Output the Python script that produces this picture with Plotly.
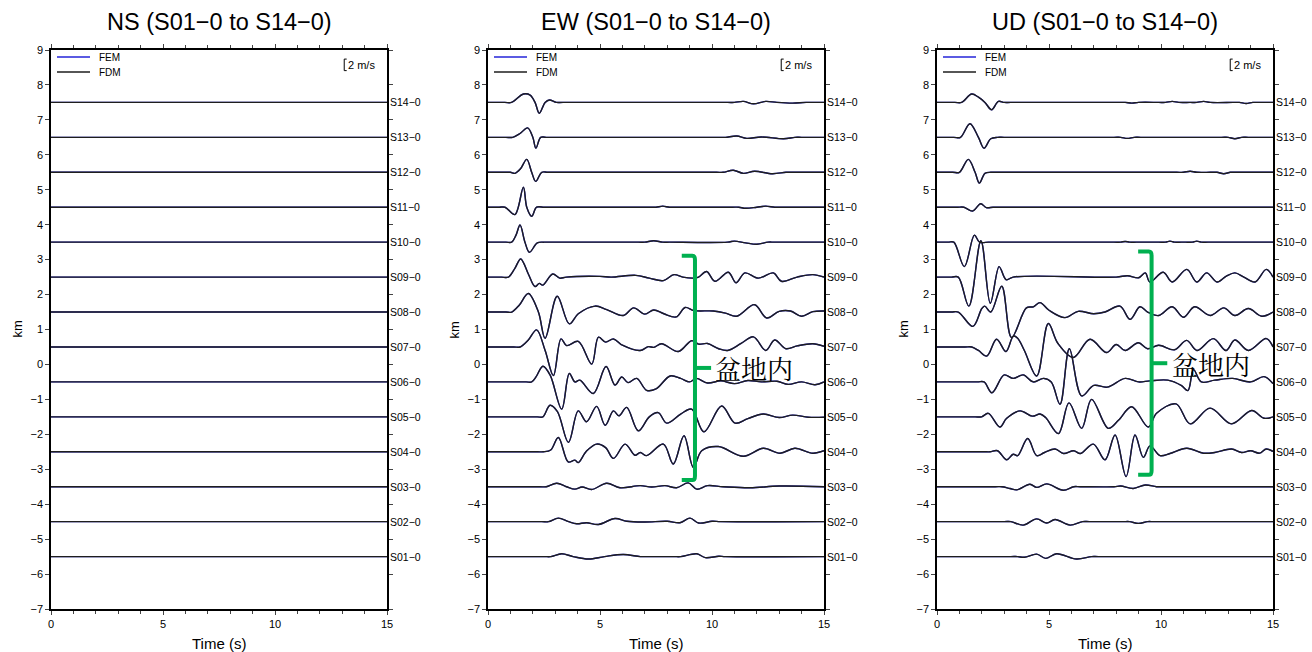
import plotly.graph_objects as go

# ---------------- data ----------------
STATIONS = ["S%02d\u22120" % i for i in range(1, 15)]
OFFSETS_KM = [-5.5 + i for i in range(14)]          # trace baselines (km)
COMPONENTS = ["NS", "EW", "UD"]
SCALE_BAR_MS = 2.0
KM_PER_MS = 0.165                                   # 2 m/s bar ~ 0.33 km

# NS component: flat traces (times s, deflection km)
NS_T = {s: [0, 15] for s in STATIONS}
NS_V = {s: [0, 0] for s in STATIONS}

# EW component
EW_T = {
    "S01\u22120": [0, 2.5, 2.8, 3.29, 3.8, 4.49, 5.2, 6.04, 6.8, 7.1, 8.3, 8.6, 9.32, 9.7, 10.3, 10.6, 15],
    "S02\u22120": [0, 2.4, 2.7, 3.14, 3.6, 3.96, 4.4, 4.93, 5.67, 6.2, 7.0, 8.0, 8.57, 9.02, 9.4, 10.0, 10.4, 15],
    "S03\u22120": [0, 2.3, 2.6, 3.07, 3.5, 3.88, 4.2, 4.63, 5.3, 5.89, 6.8, 7.3, 7.9, 8.42, 8.94, 9.32, 9.8, 10.5, 11.7, 13.0, 15],
    "S04\u22120": [0, 2.2, 2.47, 2.8, 3.14, 3.58, 3.88, 4.03, 4.4, 4.85, 5.25, 5.6, 6.12, 6.56, 6.8, 7.08, 7.83, 8.27, 8.75, 9.17, 9.54, 10.28, 11.4, 12.29, 13.04, 13.7, 14.5, 15],
    "S05\u22120": [0, 2.2, 2.45, 2.77, 3.1, 3.59, 4.03, 4.4, 4.85, 5.23, 5.6, 5.85, 6.19, 6.71, 7.2, 7.6, 7.98, 8.6, 9.09, 9.64, 10.43, 11.03, 11.6, 12.29, 13.0, 13.6, 14.3, 15],
    "S06\u22120": [0, 1.7, 1.95, 2.15, 2.45, 2.77, 3.29, 3.63, 3.88, 4.1, 4.7, 5.27, 5.67, 5.97, 6.25, 6.64, 7.08, 7.5, 8.13, 8.6, 9.0, 9.3, 9.8, 10.4, 11.0, 11.6, 12.2, 12.9, 13.4, 14.0, 14.6, 15],
    "S07\u22120": [0, 1.15, 1.43, 1.8, 2.17, 2.55, 2.92, 3.26, 3.51, 4.03, 4.63, 4.93, 5.25, 5.6, 6.0, 6.79, 7.16, 7.4, 7.75, 8.5, 9.09, 9.4, 9.8, 10.3, 10.7, 11.3, 11.85, 12.4, 12.8, 13.3, 13.8, 14.5, 15],
    "S08\u22120": [0, 0.8, 1.06, 1.4, 1.8, 2.25, 2.55, 3.09, 3.63, 4.03, 4.78, 5.3, 6.04, 6.5, 7.0, 7.4, 7.85, 8.4, 8.8, 9.2, 10.06, 10.6, 11.1, 11.9, 12.44, 13.0, 13.5, 14.0, 14.5, 15],
    "S09\u22120": [0, 0.6, 0.91, 1.2, 1.46, 1.8, 2.1, 2.29, 2.44, 2.89, 3.2, 3.5, 5.0, 5.5, 6.6, 7.2, 7.83, 8.3, 8.7, 9.17, 9.4, 9.76, 10.13, 10.73, 11.07, 11.47, 12.07, 12.74, 13.1, 13.8, 14.5, 15],
    "S10\u22120": [0, 0.8, 1.06, 1.25, 1.43, 1.65, 1.85, 2.2, 2.5, 2.8, 6.7, 7.0, 7.4, 7.8, 8.1, 10.7, 11.0, 11.5, 12.0, 12.5, 12.8, 15],
    "S11\u22120": [0, 0.5, 0.76, 1.2, 1.58, 1.73, 1.95, 2.17, 2.5, 2.8, 7.2, 7.5, 7.8, 8.1, 8.4, 10.9, 11.2, 11.5, 12.0, 12.4, 12.8, 13.1, 15],
    "S12\u22120": [0, 0.7, 1.0, 1.2, 1.45, 1.73, 1.95, 2.13, 2.4, 2.7, 10.2, 10.5, 10.95, 11.4, 11.9, 12.7, 13.3, 13.6, 15],
    "S13\u22120": [0, 0.8, 1.1, 1.43, 1.77, 2.0, 2.14, 2.35, 2.6, 10.3, 10.6, 11.1, 11.55, 12.2, 13.2, 13.7, 14.0, 15],
    "S14\u22120": [0, 0.75, 1.05, 1.58, 1.88, 2.1, 2.29, 2.55, 2.74, 3.05, 3.35, 10.7, 11.0, 11.4, 11.85, 12.4, 12.9, 13.6, 14.2, 15],
}
EW_V = {
    "S01\u22120": [0, 0, 0, 0.08, 0.0, -0.07, 0.0, 0.06, 0, 0, 0, 0, 0.08, -0.03, 0.01, 0, 0],
    "S02\u22120": [0, 0, 0, 0.1, 0.0, -0.06, -0.03, -0.08, 0.09, 0.01, -0.01, 0.01, -0.03, 0.1, -0.04, 0.01, 0, 0],
    "S03\u22120": [0, 0, 0, 0.1, 0.0, -0.07, -0.01, -0.08, 0.1, -0.03, 0.03, -0.01, 0.03, -0.03, 0.11, -0.07, 0.03, 0, -0.03, 0.02, 0],
    "S04\u22120": [0, 0, 0, 0.05, 0.41, -0.29, -0.24, -0.31, 0.02, 0.22, 0.12, -0.19, 0.22, -0.1, -0.02, -0.11, 0.22, -0.35, 0.46, -0.45, 0.03, 0.15, -0.13, 0.1, -0.04, 0.1, -0.04, 0.03],
    "S05\u22120": [0, 0, 0, 0.33, 0.15, -0.73, 0.17, -0.14, 0.3, -0.24, 0.17, 0.03, 0.27, -0.4, 0.0, 0.12, -0.18, 0.08, 0.22, -0.43, 0.31, -0.18, -0.05, 0.08, -0.02, 0.05, -0.01, -0.01],
    "S06\u22120": [0, 0, 0, 0.15, 0.45, 0.2, -0.78, 0.24, 0.0, 0.05, -0.33, 0.44, -0.09, 0.14, -0.02, 0.1, -0.24, -0.2, 0.17, 0.1, 0.0, 0.1, -0.03, 0.03, -0.05, 0.04, 0.0, 0.02, -0.07, 0.0, -0.08, 0.0],
    "S07\u22120": [0, 0, 0, 0.2, 0.49, -0.1, -0.82, 0.23, 0.04, 0.16, -0.49, 0.28, 0.14, 0.23, 0.05, -0.1, 0.01, -0.01, 0.09, -0.13, 0.18, 0.08, 0.1, -0.05, -0.1, 0.1, 0.29, -0.1, 0.2, -0.05, 0.03, 0.09, 0.02],
    "S08\u22120": [0, 0, 0, 0.2, 0.53, 0, -0.75, 0.45, -0.34, -0.05, 0.17, 0.07, -0.1, 0.12, -0.06, 0.06, -0.05, -0.14, 0.13, 0.04, 0.03, -0.03, -0.12, 0.21, -0.17, 0.02, 0.03, -0.12, 0.01, 0.03],
    "S09\u22120": [0, 0, 0, 0.25, 0.52, 0.09, -0.27, -0.18, -0.23, 0.09, -0.03, 0, 0.02, 0, 0.05, -0.03, -0.1, 0.07, 0, -0.03, 0, 0.16, -0.12, 0.14, -0.16, 0.12, -0.03, 0.12, -0.12, 0, 0.07, 0],
    "S10\u22120": [0, 0, 0, 0.2, 0.49, 0, -0.29, -0.02, 0, 0, 0, 0, 0.04, 0, 0, 0, 0.03, -0.02, -0.06, 0, 0, 0],
    "S11\u22120": [0, 0, 0, -0.21, 0.57, 0, -0.26, 0, 0, 0, 0, 0, 0.03, 0, 0, 0, 0, -0.03, 0, 0.03, 0, 0, 0],
    "S12\u22120": [0, 0, 0, -0.03, 0.1, 0.37, 0, -0.26, 0, 0, 0, 0, 0.06, -0.03, 0.03, -0.04, 0, 0, 0],
    "S13\u22120": [0, 0, 0, 0.11, 0.27, 0, -0.31, 0, 0, 0, 0, 0.04, -0.03, 0.01, -0.04, 0, 0, 0],
    "S14\u22120": [0, 0, 0, 0.24, 0.21, 0, -0.31, 0, 0.07, 0, 0, 0, 0, 0.03, -0.04, 0.03, 0, -0.02, 0, 0],
}

# UD component
UD_T = {
    "S01\u22120": [0, 3.3, 3.6, 3.9, 4.45, 4.85, 5.34, 6.23, 6.9, 7.2, 15],
    "S02\u22120": [0, 3.0, 3.3, 3.85, 4.45, 4.9, 5.27, 5.94, 6.5, 6.8, 8.3, 8.6, 8.99, 9.4, 9.7, 15],
    "S03\u22120": [0, 2.6, 2.9, 3.26, 3.56, 4.15, 4.45, 4.9, 5.64, 6.1, 6.4, 7.9, 8.2, 8.76, 9.3, 9.8, 10.1, 15],
    "S04\u22120": [0, 2.1, 2.37, 2.7, 3.11, 3.4, 3.6, 4.05, 4.45, 4.8, 5.27, 5.65, 6.1, 6.4, 6.98, 7.5, 7.95, 8.44, 8.84, 9.21, 9.51, 9.96, 10.4, 11.15, 11.9, 12.4, 13.15, 13.6, 14.0, 14.4, 14.7, 15],
    "S05\u22120": [0, 1.7, 1.99, 2.29, 2.81, 3.1, 3.71, 4.25, 4.6, 4.85, 5.42, 5.89, 6.46, 6.9, 7.65, 8.1, 8.69, 9.43, 9.8, 10.67, 11.3, 12.19, 13.15, 14.05, 14.6, 15],
    "S06\u22120": [0, 1.8, 2.1, 2.45, 3.0, 3.4, 3.85, 4.3, 4.75, 5.1, 5.49, 5.91, 6.46, 7.0, 7.6, 8.4, 9.0, 9.5, 10.3, 10.9, 11.2, 11.45, 11.8, 12.4, 13.2, 14.0, 14.6, 15],
    "S07\u22120": [0, 1.25, 1.55, 1.85, 2.22, 2.66, 3.08, 3.41, 3.6, 3.9, 4.45, 4.97, 5.4, 6.09, 6.83, 7.57, 8.0, 8.4, 8.99, 9.4, 9.9, 10.6, 11.15, 11.6, 12.34, 12.9, 13.3, 13.9, 14.7, 15],
    "S08\u22120": [0, 0.65, 0.95, 1.6, 2.0, 2.13, 2.4, 2.89, 3.33, 3.99, 4.3, 4.6, 5.0, 5.71, 6.3, 7.0, 7.5, 8.17, 8.62, 9.06, 9.4, 9.9, 10.5, 11.0, 11.5, 12.2, 12.8, 13.3, 13.9, 14.5, 15],
    "S09\u22120": [0, 0.65, 0.95, 1.42, 1.96, 2.38, 2.77, 3.0, 3.1, 3.4, 8.0, 8.5, 9.0, 9.3, 9.5, 10.1, 10.5, 11.15, 11.6, 12.04, 12.5, 12.9, 13.3, 13.7, 14.2, 14.7, 15],
    "S10\u22120": [0, 0.5, 0.75, 1.22, 1.67, 1.9, 2.3, 2.6, 7.9, 8.2, 8.4, 8.6, 8.9, 9.9, 10.2, 10.4, 10.6, 10.9, 11.1, 11.4, 11.6, 11.8, 12.1, 15],
    "S11\u22120": [0, 0.9, 1.2, 1.59, 1.95, 2.2, 2.5, 2.8, 15],
    "S12\u22120": [0, 0.7, 1.0, 1.4, 1.7, 1.89, 2.14, 2.4, 2.7, 10.7, 11.0, 11.3, 11.6, 12.2, 12.5, 12.8, 13.1, 13.4, 15],
    "S13\u22120": [0, 0.75, 1.05, 1.47, 1.85, 2.1, 2.4, 2.7, 3.0, 7.9, 8.2, 8.5, 8.8, 9.1, 12.7, 13.0, 13.3, 13.6, 13.9, 15],
    "S14\u22120": [0, 0.8, 1.1, 1.55, 1.85, 2.14, 2.44, 2.74, 3.0, 3.3, 8.1, 8.4, 8.7, 9.0, 9.9, 10.2, 10.5, 10.8, 11.3, 11.6, 11.9, 12.2, 13.2, 13.5, 13.8, 14.1, 14.4, 15],
}
UD_V = {
    "S01\u22120": [0, 0, 0, -0.02, 0.07, -0.05, 0.08, -0.07, 0, 0, 0],
    "S02\u22120": [0, 0, 0, -0.1, 0.08, -0.04, 0.06, -0.1, 0, 0, 0, 0, -0.05, 0, 0, 0],
    "S03\u22120": [0, 0, 0, -0.05, -0.09, 0.07, -0.02, 0.08, -0.1, 0, 0, 0, 0.02, -0.05, 0.05, 0, 0, 0],
    "S04\u22120": [0, 0, 0, 0.03, -0.23, -0.07, -0.11, 0.38, -0.11, -0.02, 0.08, -0.05, 0.03, -0.05, 0.22, -0.23, 0.48, -0.71, 0.48, -0.16, 0.17, -0.11, -0.05, 0.1, -0.04, -0.02, 0.08, -0.02, 0.03, -0.04, 0.08, 0.01],
    "S05\u22120": [0, 0, 0, 0.1, -0.29, -0.05, 0.17, 0.02, 0.08, -0.02, -0.48, 0.4, -0.33, 0.5, -0.33, -0.1, 0.29, -0.29, 0.1, 0.37, -0.2, 0.25, -0.2, 0.18, -0.04, 0.0],
    "S06\u22120": [0, 0, 0, -0.31, 0.2, 0.1, 0.2, 0.0, 0.1, 0.0, -0.64, 0.95, -0.4, -0.1, -0.15, 0.1, 0.0, 0.03, 0.05, -0.1, -0.25, 0.35, 0.0, 0.05, 0.1, 0.0, 0.15, -0.05],
    "S07\u22120": [0, 0, 0, -0.1, -0.26, 0.22, -0.13, 0.31, 0.25, -0.1, -0.83, 0.67, 0.1, -0.3, 0.22, -0.16, 0.07, -0.1, 0.12, -0.05, 0.05, -0.08, 0.19, -0.1, 0.24, -0.1, 0.2, -0.1, 0.24, 0.0],
    "S08\u22120": [0, 0, 0, -0.41, 0.1, 0.17, 0.0, 0.74, -0.73, 0.12, 0.15, 0.27, 0.05, -0.16, 0.02, -0.05, 0.0, 0.17, -0.21, 0.15, 0.0, -0.1, 0.15, -0.15, 0.15, -0.1, 0.12, -0.1, 0.1, -0.12, 0.0],
    "S09\u22120": [0, 0, 0, -0.83, 1.04, -0.75, 0.3, 0.0, -0.08, 0, 0, 0.04, -0.02, 0.12, -0.14, 0.14, -0.14, 0.22, -0.14, 0.12, -0.14, 0.02, 0.12, 0.0, -0.14, 0.22, 0.0],
    "S10\u22120": [0, 0, 0, -0.7, 0.2, 0.0, 0, 0, 0, 0, 0.02, 0, 0, 0, 0, 0.03, 0, 0, 0, 0, 0.03, 0, 0, 0],
    "S11\u22120": [0, 0, 0, -0.11, 0.1, -0.01, 0, 0, 0],
    "S12\u22120": [0, 0, 0, 0.37, 0, -0.31, -0.03, 0, 0, 0, 0, 0.03, 0, 0, 0, -0.04, 0, 0, 0],
    "S13\u22120": [0, 0, 0, 0.39, 0, -0.31, -0.04, 0, 0, 0, 0, -0.03, 0, 0, 0, 0, -0.04, 0, 0, 0],
    "S14\u22120": [0, 0, 0, 0.24, 0.15, 0, -0.21, 0.03, 0, 0, 0, 0, -0.02, 0, 0, 0, 0.03, 0, 0, 0, 0.03, 0, 0, 0, -0.03, 0, 0, 0],
}

PANEL_T = {"NS": NS_T, "EW": EW_T, "UD": UD_T}
PANEL_V = {"NS": NS_V, "EW": EW_V, "UD": UD_V}

# ---------------- style / layout ----------------
W, H = 1312, 652
X_PX = [(51, 387), (488, 824), (937, 1273)]
Y_PX = (50, 609)
FONT = "Liberation Sans, Arial, sans-serif"
FEM_COLOR = "#2424d8"
FDM_COLOR = "#1e1e1e"
GREEN = "#00b050"

fig = go.Figure()
layout = dict(
    width=W, height=H, margin=dict(l=0, r=0, t=0, b=0),
    paper_bgcolor="white", plot_bgcolor="white",
    font=dict(family=FONT, size=11, color="black"),
    showlegend=False,
)
annotations, shapes = [], []

for p, comp in enumerate(COMPONENTS):
    ax = "" if p == 0 else str(p + 1)
    xa, ya = "x" + ax, "y" + ax
    x0, x1 = X_PX[p]
    layout["xaxis" + ax] = dict(
        domain=[x0 / W, x1 / W], range=[0, 15], anchor=ya,
        tickvals=[0, 5, 10, 15], ticks="outside", ticklen=4, tickwidth=1,
        minor=dict(dtick=1, ticks="outside", ticklen=3, tickwidth=1),
        showline=True, linewidth=1.6, linecolor="black", mirror="ticks",
        showgrid=False, zeroline=False, tickfont=dict(size=11), automargin=False,
    )
    layout["yaxis" + ax] = dict(
        domain=[1 - Y_PX[1] / H, 1 - Y_PX[0] / H], range=[-7, 9], anchor=xa,
        dtick=1, ticks="outside", ticklen=4, tickwidth=1,
        showline=True, linewidth=1.6, linecolor="black", mirror="ticks",
        showgrid=False, zeroline=False, tickfont=dict(size=11), automargin=False,
    )
    tmap, vmap = PANEL_T[comp], PANEL_V[comp]
    for color, width, name in ((FEM_COLOR, 1.4, "FEM"), (FDM_COLOR, 1.4, "FDM")):
        for s, off in zip(STATIONS, OFFSETS_KM):
            fig.add_trace(go.Scatter(
                x=tmap[s], y=[off + v for v in vmap[s]], mode="lines",
                line=dict(color=color, width=width, shape="spline", smoothing=1.0),
                name=name, xaxis=xa, yaxis=ya, hoverinfo="skip",
            ))
    # station labels
    for s, off in zip(STATIONS, OFFSETS_KM):
        annotations.append(dict(text=s, xref=xa + " domain", yref=ya, x=1, y=off,
                                xanchor="left", yanchor="middle", xshift=1, showarrow=False,
                                font=dict(size=10.5)))
    # titles
    annotations.append(dict(text="%s (S01\u22120 to S14\u22120)" % comp, xref=xa + " domain",
                            yref="paper", x=0.5, y=1 - 22 / H, xanchor="center", yanchor="middle",
                            showarrow=False, font=dict(size=23.5)))
    annotations.append(dict(text="Time (s)", xref=xa + " domain", yref="paper", x=0.5,
                            y=1 - 643 / H, xanchor="center", yanchor="middle", showarrow=False,
                            font=dict(size=15)))
    annotations.append(dict(text="km", xref="paper", yref=ya + " domain", x=(x0 - 34) / W, y=0.5,
                            xanchor="center", yanchor="middle", textangle=-90, showarrow=False,
                            font=dict(size=13)))
    # legend (manual)
    for k, (nm, col) in enumerate((("FEM", FEM_COLOR), ("FDM", FDM_COLOR))):
        ypx = 57 + 15 * k
        shapes.append(dict(type="line", xref="paper", yref="paper",
                           x0=(x0 + 6) / W, x1=(x0 + 39) / W, y0=1 - ypx / H, y1=1 - ypx / H,
                           line=dict(color=col, width=1.3)))
        annotations.append(dict(text=nm, xref="paper", yref="paper", x=(x0 + 46) / W,
                                y=1 - ypx / H, xanchor="left", yanchor="middle",
                                showarrow=False, font=dict(size=10)))
    # scale bar
    top = 8.74
    bot = top - SCALE_BAR_MS * KM_PER_MS
    shapes.append(dict(type="path", xref=xa, yref=ya,
                       path="M 13.2 %f L 13.09 %f L 13.09 %f L 13.2 %f" % (top, top, bot, bot),
                       line=dict(color="black", width=1)))
    annotations.append(dict(text="2 m/s", xref=xa, yref=ya, x=13.17, y=(top + bot) / 2,
                            xanchor="left", yanchor="middle", showarrow=False,
                            font=dict(size=11)))

# basin brackets (EW, UD)
BRACKETS = {"EW": (9.24, 8.65, 3.11, -3.31, 9.96), "UD": (9.58, 8.98, 3.23, -3.16, 10.28)}
for p, comp in enumerate(COMPONENTS):
    if comp not in BRACKETS:
        continue
    ax = str(p + 1)
    xv, xl, yt, yb, xm = BRACKETS[comp]
    r, rr = 0.12, 0.12
    path = ("M %f %f L %f %f Q %f %f %f %f L %f %f Q %f %f %f %f L %f %f"
            % (xl, yt, xv - r, yt, xv, yt, xv, yt - rr, xv, yb + rr, xv, yb, xv - r, yb, xl, yb))
    shapes.append(dict(type="path", xref="x" + ax, yref="y" + ax, path=path,
                       line=dict(color=GREEN, width=4)))
    ym = (yt + yb) / 2
    shapes.append(dict(type="line", xref="x" + ax, yref="y" + ax, x0=xv, x1=xm, y0=ym, y1=ym,
                       line=dict(color=GREEN, width=4)))
    annotations.append(dict(text="盆地内", xref="x" + ax, yref="y" + ax, x=xm + 0.1, y=ym,
                            xanchor="left", yanchor="middle", showarrow=False,
                            font=dict(size=26, family="Noto Serif CJK JP, Noto Sans CJK JP")))

layout["annotations"] = annotations
layout["shapes"] = shapes
fig.update_layout(**layout)
fig.write_html("out.html")
